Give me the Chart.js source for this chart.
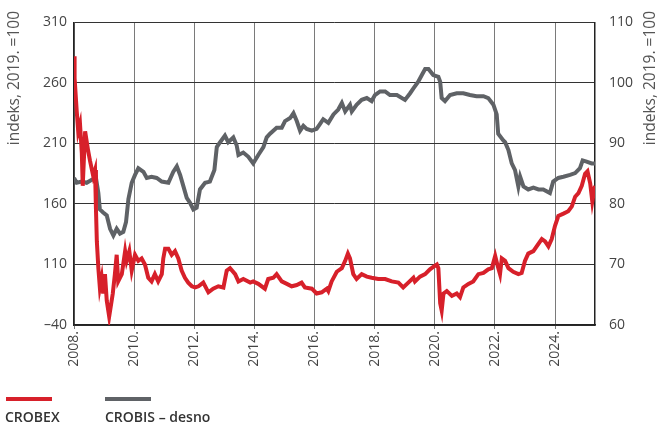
<!DOCTYPE html>
<html>
<head>
<meta charset="utf-8">
<script src="https://cdn.jsdelivr.net/npm/chart.js@4/dist/chart.umd.min.js"></script>
<style>
  body { margin: 0; background: #fff; }
  #wrap { position: relative; width: 662px; height: 427px; }
  .leg { position: absolute; font-family: "Open Sans", sans-serif; font-size: 14px; font-weight: 600; color: #333; }
  .legline { position: absolute; height: 4px; width: 46px; }
</style>
</head>
<body>
<div id="wrap">
  <canvas id="myChart" width="662" height="427"></canvas>
  <div class="legline" style="left:6px;top:397px;background:#d7202a"></div>
  <div class="leg" id="leg1" style="left:5px;top:407px"></div>
  <div class="legline" style="left:105px;top:397px;background:#5f6266"></div>
  <div class="leg" id="leg2" style="left:105px;top:407px"></div>
</div>
<script>
// CROBEX (left axis)
const crobexYears = [2008.00, 2008.01, 2008.03, 2008.09, 2008.14, 2008.20, 2008.26, 2008.29, 2008.37, 2008.47,
  2008.53, 2008.64, 2008.70, 2008.73, 2008.76, 2008.81, 2008.86, 2008.92, 2008.97, 2009.03,
  2009.09, 2009.17, 2009.22, 2009.29, 2009.36, 2009.42, 2009.47, 2009.59, 2009.70, 2009.75,
  2009.84, 2009.92, 2010.03, 2010.14, 2010.25, 2010.36, 2010.47, 2010.58, 2010.69, 2010.80,
  2010.92, 2010.97, 2011.03, 2011.14, 2011.25, 2011.36, 2011.47, 2011.58, 2011.69, 2011.80,
  2011.92, 2012.03, 2012.14, 2012.30, 2012.47, 2012.63, 2012.80, 2012.97, 2013.08, 2013.19,
  2013.36, 2013.47, 2013.63, 2013.86, 2013.96, 2014.13, 2014.35, 2014.46, 2014.63, 2014.74,
  2014.91, 2015.08, 2015.24, 2015.41, 2015.57, 2015.68, 2015.91, 2016.07, 2016.24, 2016.41,
  2016.46, 2016.57, 2016.74, 2016.91, 2017.02, 2017.11, 2017.18, 2017.29, 2017.40, 2017.57,
  2017.74, 2017.90, 2018.12, 2018.35, 2018.57, 2018.79, 2018.95, 2019.12, 2019.29, 2019.34,
  2019.51, 2019.68, 2019.84, 2019.95, 2020.07, 2020.12, 2020.18, 2020.23, 2020.29, 2020.40,
  2020.57, 2020.73, 2020.84, 2020.95, 2021.12, 2021.28, 2021.45, 2021.62, 2021.78, 2021.90,
  2022.01, 2022.08, 2022.17, 2022.23, 2022.34, 2022.45, 2022.61, 2022.78, 2022.89, 2023.00,
  2023.11, 2023.28, 2023.39, 2023.56, 2023.67, 2023.78, 2023.89, 2024.00, 2024.11, 2024.28,
  2024.44, 2024.56, 2024.67, 2024.78, 2024.89, 2025.00, 2025.08, 2025.17, 2025.24, 2025.33];
const crobexValues = [261, 282, 264, 237, 220, 226, 202, 175, 220, 204,
  196, 183, 188, 156, 129, 107, 91, 99, 86, 102,
  80, 67, 75, 86, 102, 118, 96, 102, 121, 113,
  121, 105, 118, 113, 115, 110, 99, 96, 102, 96,
  102, 115, 123, 123, 118, 121, 115, 105, 99, 95,
  92, 91, 92, 95, 87, 90, 92, 91, 105, 107,
  102, 96, 98, 95, 96, 94, 90, 98, 99, 102,
  96, 94, 92, 93, 95, 91, 90, 86, 87, 90,
  88, 96, 104, 107, 113, 119, 115, 102, 98, 102,
  100, 99, 98, 98, 96, 95, 91, 95, 99, 96,
  100, 102, 106, 108, 110, 107, 78, 72, 86, 88,
  84, 86, 83, 91, 94, 96, 102, 103, 106, 107,
  117, 110, 102, 115, 113, 107, 104, 102, 103, 113,
  119, 121, 125, 131, 129, 125, 131, 142, 150, 152,
  154, 158, 166, 169, 175, 185, 187, 177, 162, 175];

// CROBIS (right axis)
const crobisYears = [2008.00, 2008.09, 2008.26, 2008.42, 2008.59, 2008.73, 2008.81, 2008.86, 2008.97, 2009.09,
  2009.20, 2009.31, 2009.42, 2009.53, 2009.64, 2009.73, 2009.81, 2009.92, 2010.03, 2010.14,
  2010.31, 2010.42, 2010.58, 2010.75, 2010.92, 2011.14, 2011.30, 2011.42, 2011.53, 2011.64,
  2011.75, 2011.86, 2011.97, 2012.08, 2012.19, 2012.36, 2012.52, 2012.67, 2012.75, 2012.86,
  2013.02, 2013.13, 2013.30, 2013.41, 2013.47, 2013.63, 2013.80, 2013.96, 2014.13, 2014.30,
  2014.41, 2014.52, 2014.63, 2014.74, 2014.91, 2015.02, 2015.19, 2015.30, 2015.41, 2015.52,
  2015.63, 2015.74, 2015.91, 2016.07, 2016.18, 2016.29, 2016.46, 2016.63, 2016.79, 2016.91,
  2017.02, 2017.18, 2017.24, 2017.40, 2017.57, 2017.74, 2017.90, 2018.01, 2018.18, 2018.35,
  2018.51, 2018.74, 2019.01, 2019.18, 2019.29, 2019.45, 2019.57, 2019.68, 2019.79, 2019.95,
  2020.12, 2020.18, 2020.23, 2020.34, 2020.51, 2020.73, 2020.95, 2021.17, 2021.39, 2021.62,
  2021.78, 2021.95, 2022.06, 2022.11, 2022.28, 2022.34, 2022.45, 2022.56, 2022.67, 2022.78,
  2022.84, 2022.95, 2023.11, 2023.28, 2023.45, 2023.61, 2023.83, 2023.94, 2024.11, 2024.28,
  2024.50, 2024.67, 2024.83, 2024.92, 2025.05, 2025.22, 2025.33];
const crobisValues = [84.3, 83.5, 83.7, 83.5, 84.0, 84.3, 81.8, 79.1, 78.6, 78.1,
  75.9, 74.8, 75.9, 75.1, 75.4, 77.0, 80.8, 83.5, 84.8, 85.9,
  85.3, 84.3, 84.5, 84.3, 83.7, 83.5, 85.3, 86.2, 84.8, 82.9,
  81.0, 80.2, 79.1, 79.4, 82.4, 83.5, 83.7, 85.6, 89.4, 90.2,
  91.3, 90.2, 91.0, 89.7, 88.1, 88.5, 87.8, 86.7, 88.1, 89.4,
  91.0, 91.6, 92.1, 92.6, 92.6, 93.7, 94.2, 95.0, 93.7, 92.1,
  92.9, 92.4, 92.1, 92.4, 93.2, 94.0, 93.4, 94.8, 95.6, 96.7,
  95.3, 96.4, 95.3, 96.4, 97.2, 97.5, 97.0, 98.0, 98.6, 98.6,
  98.0, 98.0, 97.2, 98.3, 99.1, 100.2, 101.3, 102.3, 102.3, 101.3,
  101.0, 100.2, 97.5, 97.0, 98.0, 98.3, 98.3, 98.0, 97.8, 97.8,
  97.5, 96.4, 94.8, 91.6, 90.5, 90.2, 88.9, 86.7, 85.6, 82.9,
  84.5, 82.9, 82.4, 82.7, 82.4, 82.4, 81.8, 83.7, 84.3, 84.5,
  84.8, 85.1, 85.9, 87.2, 87.0, 86.7, 86.7];

const seriesLabels = ["CROBEX", "CROBIS – desno"];
const leftTickLabels = ["–40", "110", "160", "210", "260", "310"];
const axisTitle = "indeks, 2019. =100";

document.getElementById("leg1").textContent = seriesLabels[0];
document.getElementById("leg2").textContent = seriesLabels[1];

const toPoints = (xs, ys) => xs.map((x, i) => ({ x: x, y: ys[i] }));

const tickFont = { family: "'Open Sans', sans-serif", size: 14 };

// draws both axis titles, reading bottom to top
const axisTitles = {
  id: "axisTitles",
  afterDraw(chart) {
    const ctx = chart.ctx;
    ctx.save();
    ctx.font = "15.5px 'Open Sans', sans-serif";
    ctx.fillStyle = "#555";
    ctx.textAlign = "right";
    ctx.textBaseline = "middle";
    [15, 651].forEach(x => {
      ctx.save();
      ctx.translate(x, 11);
      ctx.rotate(-Math.PI / 2);
      ctx.fillText(axisTitle, 0, 0);
      ctx.restore();
    });
    ctx.restore();
  }
};

new Chart(document.getElementById("myChart"), {
  type: "line",
  data: {
    datasets: [
      {
        label: seriesLabels[0],
        data: toPoints(crobexYears, crobexValues),
        borderColor: "#d7202a",
        borderWidth: 4,
        pointRadius: 0,
        yAxisID: "y"
      },
      {
        label: seriesLabels[1],
        data: toPoints(crobisYears, crobisValues),
        borderColor: "#5f6266",
        borderWidth: 4,
        pointRadius: 0,
        yAxisID: "y1"
      }
    ]
  },
  options: {
    responsive: false,
    animation: false,
    layout: { padding: { top: 16, bottom: 42 } },
    plugins: { legend: { display: false }, tooltip: { enabled: false } },
    scales: {
      x: {
        type: "linear",
        bounds: "data",
        min: 2008,
        max: 2025.33,
        afterFit: s => { s.height = 60; },
        grid: { color: "#7a7a7a", drawTicks: true, tickLength: 4 },
        border: { color: "#222", width: 1.5 },
        ticks: {
          stepSize: 2,
          includeBounds: false,
          maxRotation: 90,
          minRotation: 90,
          padding: 2,
          color: "#444",
          font: tickFont,
          callback: v => v + "."
        }
      },
      y: {
        position: "left",
        min: 60,
        max: 310,
        afterFit: s => { s.width = 74; },
        grid: { color: "#333", drawTicks: false },
        border: { color: "#222", width: 1.5 },
        ticks: {
          stepSize: 50,
          padding: 7,
          color: "#444",
          font: tickFont,
          callback: (v, i) => leftTickLabels[i]
        }
      },
      y1: {
        position: "right",
        min: 60,
        max: 110,
        afterFit: s => { s.width = 67; },
        grid: { display: false, drawTicks: false },
        border: { color: "#222", width: 1.5 },
        ticks: { stepSize: 10, padding: 14, color: "#444", font: tickFont }
      }
    }
  },
  plugins: [axisTitles]
});
</script>
</body>
</html>
